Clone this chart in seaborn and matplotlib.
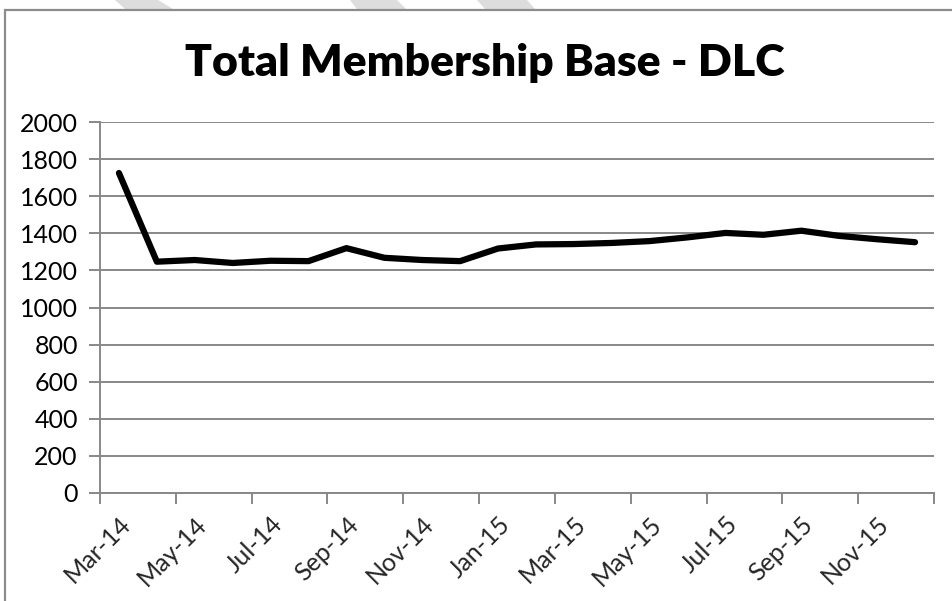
import matplotlib
matplotlib.use("Agg")
import matplotlib.pyplot as plt
from matplotlib.patches import Polygon, Rectangle
import seaborn as sns
import pandas as pd

# Monthly membership totals, Mar-14 .. Dec-15
months = ["Mar-14", "Apr-14", "May-14", "Jun-14", "Jul-14", "Aug-14", "Sep-14",
          "Oct-14", "Nov-14", "Dec-14", "Jan-15", "Feb-15", "Mar-15", "Apr-15",
          "May-15", "Jun-15", "Jul-15", "Aug-15", "Sep-15", "Oct-15", "Nov-15",
          "Dec-15"]
members = [1725, 1247, 1256, 1240, 1252, 1250, 1320, 1268, 1256, 1250, 1318,
           1340, 1342, 1348, 1358, 1378, 1402, 1392, 1414, 1386, 1368, 1352]
y_ticks = [0, 200, 400, 600, 800, 1000, 1200, 1400, 1600, 1800, 2000]
title = "Total Membership Base - DLC"

df = pd.DataFrame({"month": months, "members": members, "pos": range(len(months))})

sns.set_theme(style="white")
plt.rcParams["font.family"] = ["Lato", "DejaVu Sans"]

W, H = 952, 601
fig = plt.figure(figsize=(W / 100, H / 100), dpi=100)
fig.patch.set_facecolor("white")

# decorative light stripes peeking above the frame
stripes = [[(115, 0), (158, 0), (173, 9), (125, 9)],
           [(350, 0), (397, 0), (406, 9), (357, 9)],
           [(477, 0), (527, 0), (535, 9), (485, 9)]]
for pts in stripes:
    fig.patches.append(Polygon([(x / W, 1 - y / H) for x, y in pts], closed=True,
                               transform=fig.transFigure, facecolor="#dddddd",
                               edgecolor="none", zorder=0))
# chart frame (only left and top edges fall inside the canvas)
frame_top = 1 - 9.5 / H
fig.patches.append(Rectangle((4.5 / W, -0.2), 1.2, frame_top + 0.2,
                             transform=fig.transFigure, facecolor="white",
                             edgecolor="#8c8c8c", linewidth=1.6, zorder=1))

ax = fig.add_axes([100 / W, 1 - 493 / H, (934 - 100) / W, (493 - 122) / H])
ax.set_facecolor("none")
ax.set_zorder(2)

sns.lineplot(data=df, x="pos", y="members", ax=ax, color="black", linewidth=4.5,
             solid_capstyle="round", solid_joinstyle="round", zorder=3)

ax.set_xlim(-0.5, len(months) - 0.5)
ax.set_ylim(0, 2000)
ax.set_yticks(y_ticks)
ax.set_yticklabels([str(v) for v in y_ticks], fontsize=18)
ax.yaxis.grid(True, color="#888888", linewidth=1.4)
ax.xaxis.grid(False)

# tick marks on category boundaries, labels on every other category
ax.set_xticks([i - 0.5 for i in range(0, len(months) + 1, 2)])
ax.set_xticklabels([])
ax.set_xticks(list(range(0, len(months), 2)), minor=True)
ax.set_xticklabels(months[::2], minor=True, rotation=45, ha="right",
                   rotation_mode="anchor", fontsize=18)
ax.tick_params(axis="x", which="major", direction="out", length=8, width=1.4,
               color="#888888", bottom=True)
ax.tick_params(axis="x", which="minor", length=0, pad=14)
ax.tick_params(axis="y", direction="out", length=8, width=1.4, color="#888888",
               left=True, pad=8, labelcolor="black")
ax.set_xlabel("")
ax.set_ylabel("")

for side in ("top", "right"):
    ax.spines[side].set_visible(False)
for side in ("left", "bottom"):
    ax.spines[side].set_color("#888888")
    ax.spines[side].set_linewidth(1.4)

fig.text(485 / W, 1 - 63 / H, title, ha="center", va="center",
         fontsize=32, fontweight="heavy", color="black")

fig.savefig("out.png", dpi=100, facecolor="white")
